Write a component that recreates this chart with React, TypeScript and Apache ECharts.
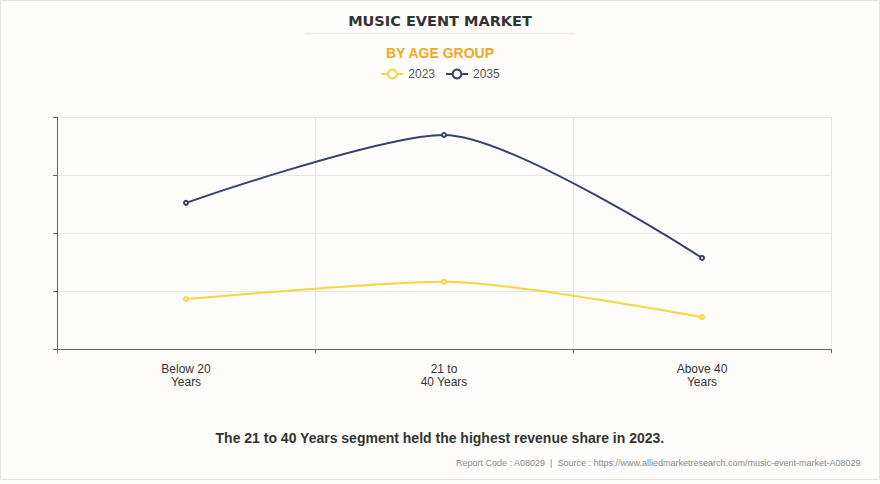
import React, { useEffect, useRef } from "react";
import * as echarts from "echarts";

const categories = ["Below 20\nYears", "21 to\n40 Years", "Above 40\nYears"];
const series2023 = [0.86, 1.16, 0.55];
const series2035 = [2.52, 3.69, 1.57];
const seriesNames = ["2023", "2035"];

export default function App() {
  const ref = useRef<HTMLDivElement>(null);
  useEffect(() => {
    const chart = echarts.init(ref.current!, null, { renderer: "svg" });
    chart.setOption({
      animation: false,
      backgroundColor: "#FEFDFB",
      title: [
        {
          text: "MUSIC EVENT MARKET",
          left: "center",
          top: 8,
          textStyle: { fontSize: 14.5, fontWeight: "bold", color: "#333", fontFamily: "DejaVu Sans" },
        },
        {
          text: "BY AGE GROUP",
          left: "center",
          top: 41,
          textStyle: { fontSize: 14, fontWeight: "bold", color: "#F5A623", fontFamily: "Arial, Liberation Sans" },
        },
      ],
      graphic: [
        { type: "line", shape: { x1: 305, y1: 33.5, x2: 575, y2: 33.5 }, style: { stroke: "#EBEBEB", lineWidth: 1.5 } },
        { type: "rect", shape: { x: 0.5, y: 0.5, width: 879, height: 479 }, style: { fill: "none", stroke: "#E4E4E4", lineWidth: 1 } },
        {
          type: "text",
          left: "center",
          top: 431,
          style: { text: "The 21 to 40 Years segment held the highest revenue share in 2023.", fontSize: 14, fontWeight: "bold", fill: "#333", fontFamily: "Arial, Liberation Sans" },
        },
        {
          type: "text",
          right: 19,
          top: 458,
          style: { text: "Report Code : A08029  |  Source : https://www.alliedmarketresearch.com/music-event-market-A08029", fontSize: 9, fill: "#888", fontFamily: "Arial, Liberation Sans" },
        },
      ],
      legend: {
        top: 63,
        left: "center",
        itemWidth: 22,
        itemHeight: 11,
        itemGap: 10,
        textStyle: { fontSize: 12, color: "#555", fontFamily: "Arial, Liberation Sans" },
        data: seriesNames,
      },
      grid: { left: 57, right: 49, top: 117, bottom: 135 },
      xAxis: {
        type: "category",
        data: categories,
        boundaryGap: true,
        axisLine: { lineStyle: { color: "#666", width: 1 } },
        axisTick: { show: true, length: 4, lineStyle: { color: "#666" } },
        axisLabel: { fontSize: 12, color: "#333", lineHeight: 13, margin: 13, fontFamily: "Arial, Liberation Sans" },
        splitLine: { show: true, lineStyle: { color: "#E6E6E6" } },
      },
      yAxis: {
        type: "value",
        min: 0,
        max: 4,
        interval: 1,
        axisLine: { show: true, lineStyle: { color: "#666" } },
        axisTick: { show: true, length: 4, lineStyle: { color: "#666" } },
        axisLabel: { show: false },
        splitLine: { show: true, lineStyle: { color: "#E6E6E6" } },
      },
      series: [
        {
          name: seriesNames[0],
          type: "line",
          smooth: 0.25,
          data: series2023,
          symbol: "emptyCircle",
          symbolSize: 4,
          itemStyle: { color: "#FFD23F" },
          lineStyle: { color: "#FFD23F", width: 2 },
        },
        {
          name: seriesNames[1],
          type: "line",
          smooth: 0.25,
          data: series2035,
          symbol: "emptyCircle",
          symbolSize: 4,
          itemStyle: { color: "#34426A" },
          lineStyle: { color: "#34426A", width: 2 },
        },
      ],
    });
    return () => chart.dispose();
  }, []);
  return <div ref={ref} style={{ position: "fixed", left: 0, top: 0, width: 880, height: 484 }} />;
}
